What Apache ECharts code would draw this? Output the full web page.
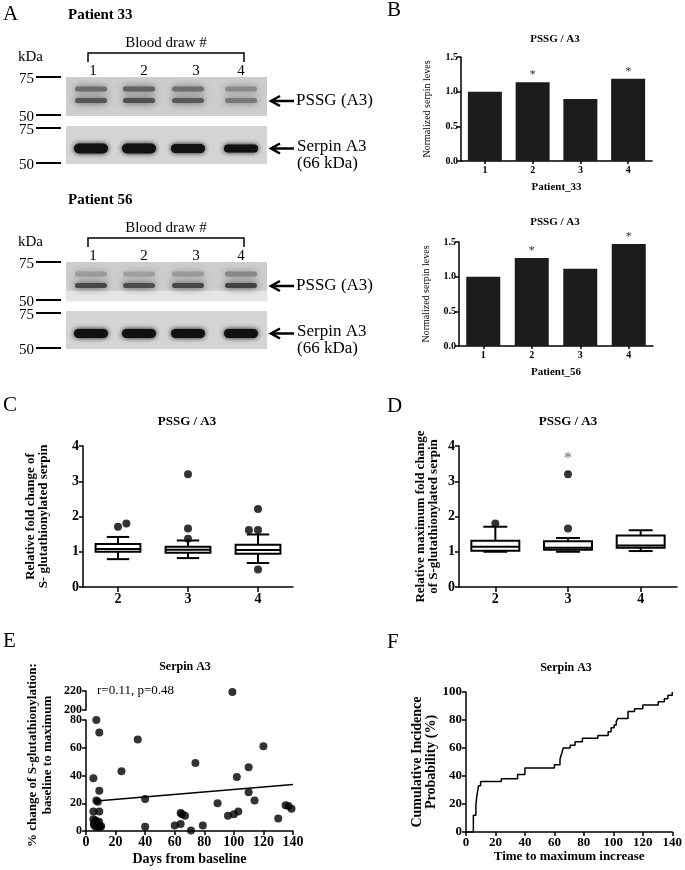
<!DOCTYPE html>
<html lang="en">
<head>
<meta charset="UTF-8">
<title>PSSG / Serpin A3</title>
<script src="https://cdn.jsdelivr.net/npm/echarts@6/dist/echarts.min.js"></script>
<style>html,body{margin:0;padding:0;background:#fff}</style>
</head>
<body>
<div id="container" style="width:685px;height:870px"></div>
<script>
// ---- values ----
var draws = ['1', '2', '3', '4'];
var patient33 = [1.0, 1.135, 0.895, 1.185];
var patient56 = [1.0, 1.27, 1.115, 1.47];
var sig33 = [false, true, false, true];
var sig56 = [false, true, false, true];

var boxTicks = [2, 3, 4];
// [draw, min, Q1, median, Q3, max]
var foldBox = [[2, 0.79, 1.0, 1.08, 1.22, 1.42], [3, 0.82, 0.97, 1.06, 1.14, 1.32], [4, 0.68, 0.94, 1.05, 1.2, 1.49]];
var foldOut = [[2, 1.71], [2.12, 1.8], [3, 3.2], [3, 1.66], [3, 1.37], [4, 2.21], [3.87, 1.62], [4, 1.62], [4, 0.5]];
var maxBox = [[2, 1.0, 1.03, 1.14, 1.31, 1.71], [3, 1.0, 1.06, 1.11, 1.3, 1.39], [4, 1.02, 1.11, 1.18, 1.46, 1.61]];
var maxOut = [[2, 1.8], [3, 3.2], [3, 1.66]];
var maxStar = 3.2; // outlier marked with *

var eDays = [7, 9, 35, 5, 24, 9, 7, 8, 40, 5, 9, 40, 60, 64, 65, 67, 64, 71, 74, 79, 89, 96, 100, 103, 102, 110, 110, 114, 120, 130, 135, 137, 139, 99,
  5, 6.5, 8.8, 5.4, 7.6, 10.3, 6.5, 8, 5.5, 7.5, 9.5];
var ePct = [80, 71, 66, 38, 43, 29, 22, 21, 23, 14, 14, 3, 4, 13, 12, 11, 5, 0.3, 49, 4, 20, 11, 12, 14, 39, 46, 28, 22, 61, 9, 18.5, 18, 16, 219,
  8.4, 7.5, 6.7, 4.3, 4.3, 3.5, 3.1, 3, 6, 6, 3];
var regLine = [[9, 21.8], [140, 33.6]];

var fDays = [0, 5, 6.7, 7.4, 8.5, 9.9, 24, 35, 40, 60, 63.8, 64.6, 65.2, 66, 70.7, 74, 79, 89.5, 96.5, 98.5, 100.5, 102, 103, 110, 114.4, 120, 130.5, 134.6, 137, 140];
var fProb = [0, 12, 19, 26, 33, 36, 38, 41, 45.7, 48, 52, 55, 57, 60, 62, 64.5, 67, 69, 71.6, 74.5, 76.5, 79, 81, 86, 88, 90.7, 93, 95.2, 97.6, 100];

// ---- helpers ----
var FONT = '"Liberation Serif", "Times New Roman", serif';
var chart = echarts.init(document.getElementById('container'));

function ax(extra, size) {
  var base = {
    axisLine: { show: true, onZero: false, lineStyle: { color: '#000', width: 1.5 } },
    axisTick: { show: true, length: 4, lineStyle: { color: '#000', width: 1.5 } },
    axisLabel: { color: '#000', fontFamily: FONT, fontWeight: 'bold', fontSize: size, margin: 4 },
    splitLine: { show: false },
    nameTextStyle: { color: '#000', fontFamily: FONT, fontWeight: 'bold', fontSize: 13 }
  };
  return Object.assign(base, extra);
}

function txt(s, x, y, size, weight, align, rot) {
  return {
    type: 'text', x: x, y: y, rotation: rot || 0,
    style: {
      text: s, fill: '#000', font: (weight || 'normal') + ' ' + size + 'px ' + FONT,
      textAlign: align || 'left', align: align || 'left',
      textVerticalAlign: 'middle', verticalAlign: 'middle', lineHeight: size + 2
    }
  };
}
function seg(x1, y1, x2, y2, w) {
  return { type: 'line', shape: { x1: x1, y1: y1, x2: x2, y2: y2 }, style: { stroke: '#000', lineWidth: w || 1.5 } };
}
function poly(pts, w) {
  return { type: 'polyline', shape: { points: pts }, style: { stroke: '#000', lineWidth: w || 1.5, fill: null } };
}
function band(cx, cy, w, h, c, blur) {
  return { type: 'rect', shape: { x: cx - w / 2, y: cy - h / 2, width: w, height: h, r: h / 2 },
    style: { fill: c, shadowBlur: blur, shadowColor: c } };
}

// western blot panels (picture, drawn as decoration)
var laneX = [91, 139, 188, 241];
function blot(dy, who, upper, lower, serpinH, pale) {
  var g = [];
  g.push(txt(who, 68, 15 + dy, 15, 'bold'));
  g.push(txt('Blood draw #', 166, 43 + dy, 15, 'normal', 'center'));
  g.push(poly([[88, 62 + dy], [88, 53 + dy], [244, 53 + dy], [244, 62 + dy]], 1.5));
  g.push(txt('kDa', 18, 57 + dy, 15));
  ['1', '2', '3', '4'].forEach(function (n, i) { g.push(txt(n, [93, 144, 196, 241][i], 71 + dy, 15, 'normal', 'center')); });
  // blot backgrounds
  g.push({ type: 'rect', shape: { x: 66, y: 77 + dy, width: 201, height: 39 }, style: { fill: '#cdcdcd' } });
  if (pale) g.push({ type: 'rect', shape: { x: 66, y: 106 + dy, width: 201, height: 10 }, style: { fill: '#e6e6e6', shadowBlur: 3, shadowColor: '#e6e6e6' } });
  g.push({ type: 'rect', shape: { x: 66, y: 126 + dy, width: 201, height: 38 }, style: { fill: '#d4d4d4' } });
  laneX.forEach(function (cx, i) {
    g.push(band(cx, 89 + dy, 32, 5, upper[i], 7));
    g.push(band(cx, 100.5 + dy, 32, 5, lower[i], 7));
    g.push(band(cx, 148.5 + dy, 34, serpinH[i], '#111', 5));
  });
  // marker ticks
  [[77, '75'], [115, '50'], [128, '75'], [163, '50']].forEach(function (m) {
    g.push(seg(36, m[0] + dy, 61, m[0] + dy, 2));
    g.push(txt(m[1], 34, m[0] + 2 + dy, 15, 'normal', 'right'));
  });
  // arrows + labels
  g.push(seg(271, 101 + dy, 294, 101 + dy, 2.5));
  g.push(poly([[280, 96 + dy], [271, 101 + dy], [280, 106 + dy]], 2.5));
  g.push(txt('PSSG (A3)', 296, 101 + dy, 17));
  g.push(seg(271, 148.5 + dy, 294, 148.5 + dy, 2.5));
  g.push(poly([[280, 143.5 + dy], [271, 148.5 + dy], [280, 153.5 + dy]], 2.5));
  g.push(txt('Serpin A3', 297, 147 + dy, 17));
  g.push(txt('(66 kDa)', 297, 164 + dy, 17));
  return g;
}

var graphics = [].concat(
  blot(0, 'Patient 33', ['#6c6c6c', '#626262', '#6e6e6e', '#8a8a8a'], ['#565656', '#505050', '#5a5a5a', '#787878'], [10, 10, 9, 8], false),
  blot(185, 'Patient 56', ['#9a9a9a', '#a0a0a0', '#9a9a9a', '#888888'], ['#484848', '#4c4c4c', '#484848', '#424242'], [9, 9, 9, 9], true),
  [
    txt('A', 3, 14, 21), txt('B', 387, 10, 21), txt('C', 3, 405, 21),
    txt('D', 387, 406, 21), txt('E', 3, 641, 21), txt('F', 387, 642, 21),
    txt('PSSG / A3', 555, 39, 11, 'bold', 'center'),
    txt('PSSG / A3', 555, 222, 11, 'bold', 'center'),
    txt('PSSG / A3', 187, 422, 13, 'bold', 'center'),
    txt('PSSG / A3', 568, 422, 13, 'bold', 'center'),
    txt('Serpin A3', 185, 667, 12, 'bold', 'center'),
    txt('Serpin A3', 566, 668, 12, 'bold', 'center'),
    txt('r=0.11, p=0.48', 97, 691, 13),
    txt('% change of S-glutathionylation:\nbaseline to maximum', 40, 755, 13, 'bold', 'center', Math.PI / 2)
  ]
);

function boxRenderer(frac) {
  return function (params, api) {
    var x = api.value(0);
    var lo = api.coord([x, api.value(1)]);
    var q1 = api.coord([x, api.value(2)]);
    var md = api.coord([x, api.value(3)]);
    var q3 = api.coord([x, api.value(4)]);
    var hi = api.coord([x, api.value(5)]);
    var w = api.size([1, 0])[0] * frac;
    var c = w / 4;
    var st = { stroke: '#000', lineWidth: 2 };
    return {
      type: 'group', children: [
        { type: 'line', shape: { x1: lo[0], y1: lo[1], x2: q1[0], y2: q1[1] }, style: st },
        { type: 'line', shape: { x1: q3[0], y1: q3[1], x2: hi[0], y2: hi[1] }, style: st },
        { type: 'line', shape: { x1: lo[0] - c, y1: lo[1], x2: lo[0] + c, y2: lo[1] }, style: st },
        { type: 'line', shape: { x1: hi[0] - c, y1: hi[1], x2: hi[0] + c, y2: hi[1] }, style: st },
        { type: 'rect', shape: { x: q1[0] - w / 2, y: q3[1], width: w, height: q1[1] - q3[1] }, style: { fill: '#fff', stroke: '#000', lineWidth: 2 } },
        { type: 'line', shape: { x1: md[0] - w / 2, y1: md[1], x2: md[0] + w / 2, y2: md[1] }, style: st }
      ]
    };
  };
}

function barData(vals, sig) {
  return vals.map(function (v, i) {
    return { value: v, label: { show: sig[i], position: 'top', distance: 1, formatter: '*', fontSize: 12, color: '#333', fontFamily: FONT } };
  });
}

var eLow = [], eHigh = [];
eDays.forEach(function (d, i) { (ePct[i] > 100 ? eHigh : eLow).push([d, ePct[i]]); });
var fSteps = fDays.map(function (d, i) { return [d, fProb[i]]; });

var bName = { color: '#000', fontFamily: FONT, fontWeight: 'bold', fontSize: 11 };
var bYName = { color: '#000', fontFamily: FONT, fontWeight: 'normal', fontSize: 10 };

chart.setOption({
  backgroundColor: '#fff',
  animation: false,
  graphic: { elements: graphics },
  grid: [
    { left: 461, top: 57, width: 191, height: 104 },
    { left: 459, top: 242, width: 194, height: 104 },
    { left: 83, top: 446, width: 210, height: 141 },
    { left: 459, top: 446, width: 218, height: 141 },
    { left: 86, top: 720, width: 207, height: 111 },
    { left: 86, top: 691, width: 207, height: 19 },
    { left: 466, top: 692, width: 208, height: 140 }
  ],
  xAxis: [
    ax({ type: 'category', data: draws, gridIndex: 0, axisTick: { show: true, alignWithLabel: true, length: 3, lineStyle: { color: '#000', width: 1.5 } },
      name: 'Patient_33', nameLocation: 'middle', nameGap: 21, nameTextStyle: bName }, 10),
    ax({ type: 'category', data: draws, gridIndex: 1, axisTick: { show: true, alignWithLabel: true, length: 3, lineStyle: { color: '#000', width: 1.5 } },
      name: 'Patient_56', nameLocation: 'middle', nameGap: 21, nameTextStyle: bName }, 10),
    ax({ type: 'value', gridIndex: 2, min: 1.5, max: 4.5,
      axisTick: { show: true, length: 5, customValues: boxTicks, lineStyle: { color: '#000', width: 1.5 } },
      axisLabel: { color: '#000', fontFamily: FONT, fontWeight: 'bold', fontSize: 14, margin: 5, customValues: boxTicks } }, 14),
    ax({ type: 'value', gridIndex: 3, min: 1.5, max: 4.5,
      axisTick: { show: true, length: 5, customValues: boxTicks, lineStyle: { color: '#000', width: 1.5 } },
      axisLabel: { color: '#000', fontFamily: FONT, fontWeight: 'bold', fontSize: 14, margin: 5, customValues: boxTicks } }, 14),
    ax({ type: 'value', gridIndex: 4, min: 0, max: 140, interval: 20, name: 'Days from baseline', nameLocation: 'middle', nameGap: 21,
      nameTextStyle: { color: '#000', fontFamily: FONT, fontWeight: 'bold', fontSize: 14 } }, 14),
    { type: 'value', gridIndex: 5, min: 0, max: 140, show: false },
    ax({ type: 'value', gridIndex: 6, min: 0, max: 140, interval: 20, name: 'Time to maximum increase', nameLocation: 'middle', nameGap: 16,
      nameTextStyle: { color: '#000', fontFamily: FONT, fontWeight: 'bold', fontSize: 13 } }, 13)
  ],
  yAxis: [
    ax({ type: 'value', gridIndex: 0, min: 0, max: 1.5, interval: 0.5, name: 'Normalized serpin leves', nameLocation: 'middle', nameGap: 29,
      nameTextStyle: bYName, axisLabel: { color: '#000', fontFamily: FONT, fontWeight: 'bold', fontSize: 10, margin: 3, formatter: function (v) { return v.toFixed(1); } } }, 10),
    ax({ type: 'value', gridIndex: 1, min: 0, max: 1.5, interval: 0.5, name: 'Normalized serpin leves', nameLocation: 'middle', nameGap: 28,
      nameTextStyle: bYName, axisLabel: { color: '#000', fontFamily: FONT, fontWeight: 'bold', fontSize: 10, margin: 3, formatter: function (v) { return v.toFixed(1); } } }, 10),
    ax({ type: 'value', gridIndex: 2, min: 0, max: 4, interval: 1, name: 'Relative fold change of\nS- glutathionylated serpin', nameLocation: 'middle', nameGap: 33 }, 14),
    ax({ type: 'value', gridIndex: 3, min: 0, max: 4, interval: 1, name: 'Relative maximum fold change\nof S-glutathionylated serpin', nameLocation: 'middle', nameGap: 19 }, 14),
    ax({ type: 'value', gridIndex: 4, min: 0, max: 80, interval: 20 }, 12),
    ax({ type: 'value', gridIndex: 5, min: 200, max: 220, interval: 20 }, 12),
    ax({ type: 'value', gridIndex: 6, min: 0, max: 100, interval: 20, name: 'Cumulative Incidence\nProbability (%)', nameLocation: 'middle', nameGap: 27,
      nameTextStyle: { color: '#000', fontFamily: FONT, fontWeight: 'bold', fontSize: 14 } }, 13)
  ],
  series: [
    { type: 'bar', xAxisIndex: 0, yAxisIndex: 0, barWidth: 34, itemStyle: { color: '#1c1c1c' }, data: barData(patient33, sig33) },
    { type: 'bar', xAxisIndex: 1, yAxisIndex: 1, barWidth: 34, itemStyle: { color: '#1c1c1c' }, data: barData(patient56, sig56) },
    { type: 'custom', xAxisIndex: 2, yAxisIndex: 2, renderItem: boxRenderer(0.64), encode: { x: 0, y: [1, 2, 3, 4, 5] }, data: foldBox, z: 2 },
    { type: 'scatter', xAxisIndex: 2, yAxisIndex: 2, symbolSize: 8, itemStyle: { color: '#000' }, data: foldOut, z: 3 },
    { type: 'custom', xAxisIndex: 3, yAxisIndex: 3, renderItem: boxRenderer(0.66), encode: { x: 0, y: [1, 2, 3, 4, 5] }, data: maxBox, z: 2 },
    { type: 'scatter', xAxisIndex: 3, yAxisIndex: 3, symbolSize: 8, itemStyle: { color: '#000' }, z: 3,
      data: maxOut.map(function (p) {
        return { value: p, label: { show: p[1] === maxStar, position: 'top', distance: 3, formatter: '*', fontSize: 16, color: '#444', fontFamily: FONT } };
      }) },
    { type: 'scatter', xAxisIndex: 4, yAxisIndex: 4, symbolSize: 8, itemStyle: { color: '#000' }, data: eLow },
    { type: 'scatter', xAxisIndex: 5, yAxisIndex: 5, symbolSize: 8, itemStyle: { color: '#000' }, data: eHigh },
    { type: 'line', xAxisIndex: 4, yAxisIndex: 4, showSymbol: false, lineStyle: { color: '#000', width: 1.5 }, data: regLine },
    { type: 'line', xAxisIndex: 6, yAxisIndex: 6, step: 'end', showSymbol: false, lineStyle: { color: '#000', width: 1.5 }, data: fSteps }
  ]
});
</script>
</body>
</html>
